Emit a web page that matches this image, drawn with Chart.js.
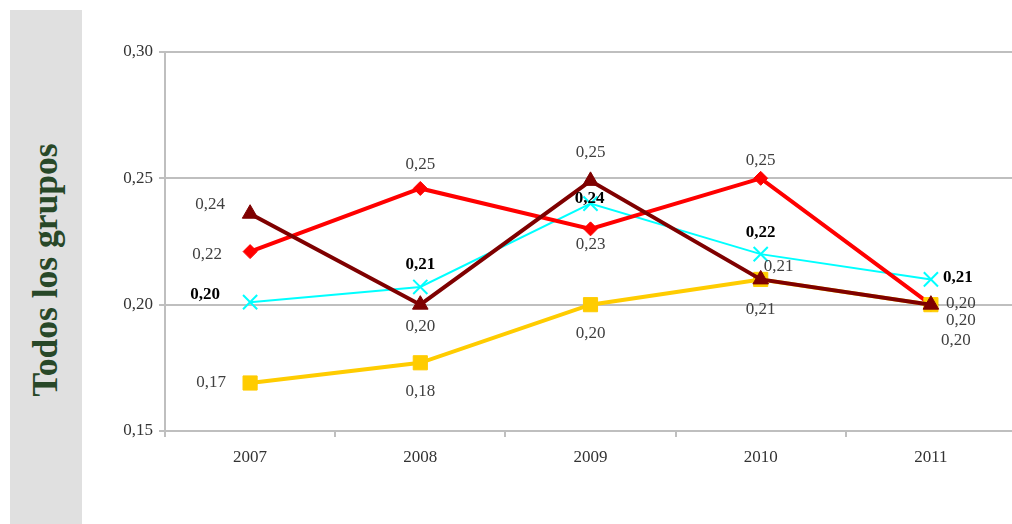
<!DOCTYPE html>
<html><head><meta charset="utf-8">
<script src="https://cdn.jsdelivr.net/npm/chart.js@4"></script>
<style>
html,body{margin:0;padding:0;background:#fff;}
#wrap{position:relative;width:1012px;height:524px;overflow:hidden;}
#panel{position:absolute;left:10px;top:10px;width:72px;height:514px;background:#e0e0e0;}
#title{position:absolute;left:45px;top:270px;transform:translate(-50%,-50%) rotate(-90deg);white-space:nowrap;font:bold 35.5px "Liberation Serif",serif;color:#284828;}
canvas{position:absolute;left:0;top:0;}
</style></head>
<body>
<div id="wrap">
  <div id="panel"></div>
  <div id="title">Todos los grupos</div>
  <canvas id="c" width="1016" height="524"></canvas>
</div>
<script>
const categories = ['2007','2008','2009','2010','2011'];
const serieRoja = [0.221, 0.246, 0.230, 0.250, 0.200];
const serieGranate = [0.236, 0.200, 0.249, 0.210, 0.200];
const serieCian = [0.201, 0.207, 0.240, 0.220, 0.210];
const serieAmarilla = [0.169, 0.177, 0.200, 0.210, 0.200];
const yTicks = [0.15, 0.20, 0.25, 0.30];

const fmt = v => v.toFixed(2).replace('.', ',');
const FONT = '"Liberation Serif", "Times New Roman", serif';

const labelPlugin = {
  id: 'pointLabels',
  afterDatasetsDraw(chart) {
    const ctx = chart.ctx;
    ctx.save();
    ctx.textAlign = 'center';
    ctx.textBaseline = 'middle';
    chart.data.datasets.forEach((ds, i) => {
      const meta = chart.getDatasetMeta(i);
      ctx.font = (ds.labelBold ? 'bold ' : '') + '17px ' + FONT;
      ctx.fillStyle = ds.labelColor;
      meta.data.forEach((pt, j) => {
        const off = ds.labelOffsets[j];
        ctx.fillText(fmt(ds.data[j]), pt.x + off[0], pt.y + off[1]);
      });
    });
    ctx.restore();
  }
};

new Chart(document.getElementById('c'), {
  type: 'line',
  data: {
    labels: categories,
    datasets: [
      {
        label: 'Serie granate', data: serieGranate,
        borderColor: '#7f0000', backgroundColor: '#7f0000', borderWidth: 4,
        pointStyle: 'triangle', pointRadius: 9, pointBorderWidth: 1,
        labelColor: '#404040', labelBold: false,
        labelOffsets: [[-40,-9],[0,22],[0,-28],[18,-13],[30,16]]
      },
      {
        label: 'Serie amarilla', data: serieAmarilla,
        borderColor: '#ffcc00', backgroundColor: '#ffcc00', borderWidth: 4,
        pointStyle: 'rect', pointRadius: 10, pointBorderWidth: 1,
        labelColor: '#404040', labelBold: false,
        labelOffsets: [[-39,0],[0,29],[0,29],[0,30],[25,36]]
      },
      {
        label: 'Serie roja', data: serieRoja,
        borderColor: '#ff0000', backgroundColor: '#ff0000', borderWidth: 4,
        pointStyle: 'rectRot', pointRadius: 7, pointBorderWidth: 1,
        labelColor: '#404040', labelBold: false,
        labelOffsets: [[-43,3],[0,-24],[0,16],[0,-18],[30,-1]]
      },
      {
        label: 'Serie cian', data: serieCian,
        borderColor: '#00ffff', backgroundColor: '#00ffff', borderWidth: 2,
        pointStyle: 'crossRot', pointRadius: 10, pointBorderWidth: 2,
        labelColor: '#000000', labelBold: true,
        labelOffsets: [[-45,-8],[0,-22],[-1,-5],[0,-22],[27,-2]]
      }
    ]
  },
  options: {
    responsive: false,
    animation: false,
    devicePixelRatio: 1,
    layout: { autoPadding: false, padding: { left: 0, right: 0, top: 52, bottom: 0 } },
    plugins: { legend: { display: false }, tooltip: { enabled: false } },
    elements: { line: { tension: 0 } },
    scales: {
      x: {
        offset: true,
        grid: { offset: true, drawOnChartArea: false, drawTicks: true, tickLength: 6, color: '#bfbfbf', lineWidth: 2 },
        border: { color: '#bfbfbf', width: 2 },
        ticks: { color: '#333333', font: { family: FONT, size: 17 }, padding: 10, maxRotation: 0 },
        afterFit(scale) { scale.height = 93; scale.paddingLeft = 0; scale.paddingRight = 0; }
      },
      y: {
        min: 0.15, max: 0.30,
        afterBuildTicks(scale) { scale.ticks = yTicks.map(v => ({ value: v })); },
        grid: { color: '#bfbfbf', lineWidth: 2, tickLength: 6, drawTicks: true },
        border: { color: '#bfbfbf', width: 2 },
        ticks: { color: '#333333', font: { family: FONT, size: 17 }, padding: 6, callback: v => fmt(v) },
        afterFit(scale) { scale.width = 165; scale.paddingTop = 0; scale.paddingBottom = 0; }
      }
    }
  },
  plugins: [labelPlugin]
});
</script>
</body></html>
